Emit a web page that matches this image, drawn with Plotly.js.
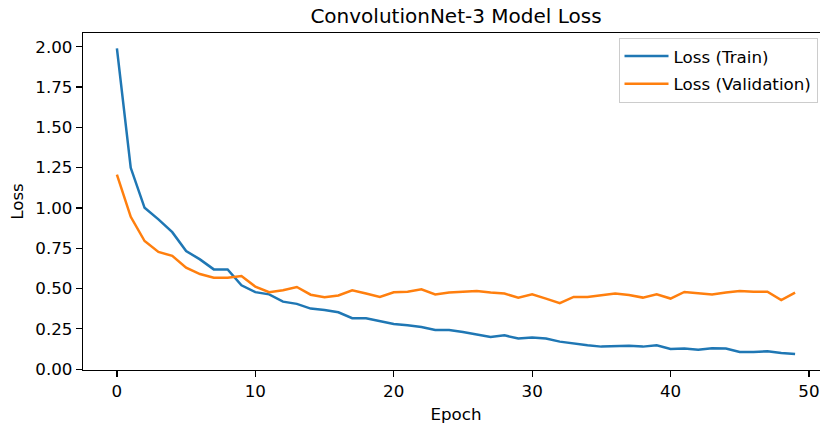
<!DOCTYPE html>
<html>
<head>
<meta charset="utf-8">
<script src="https://cdn.plot.ly/plotly-3.0.1.min.js"></script>
<style>
  html, body { margin: 0; padding: 0; width: 820px; height: 426px; overflow: hidden; background: #fff; }
  #chart { width: 829px; height: 426px; }
</style>
</head>
<body>
<div id="chart"></div>
<script>
const epochs = Array.from({length: 50}, (_, i) => i);
const trainLoss = [1.99, 1.249, 1.001, 0.929, 0.850, 0.733, 0.681, 0.619, 0.619, 0.520,
                   0.478, 0.464, 0.419, 0.405, 0.376, 0.367, 0.353, 0.316, 0.316, 0.299,
                   0.280, 0.272, 0.262, 0.243, 0.243, 0.231, 0.217, 0.200, 0.210, 0.190,
                   0.196, 0.190, 0.171, 0.159, 0.149, 0.140, 0.144, 0.146, 0.140, 0.149,
                   0.126, 0.128, 0.120, 0.130, 0.128, 0.107, 0.107, 0.111, 0.101, 0.095];
const valLoss = [1.207, 0.945, 0.795, 0.727, 0.703, 0.630, 0.590, 0.567, 0.567, 0.578,
                 0.512, 0.477, 0.490, 0.510, 0.462, 0.446, 0.457, 0.489, 0.469, 0.448,
                 0.477, 0.481, 0.495, 0.464, 0.475, 0.481, 0.485, 0.475, 0.469, 0.444,
                 0.464, 0.438, 0.409, 0.448, 0.448, 0.458, 0.469, 0.460, 0.444, 0.464,
                 0.438, 0.479, 0.470, 0.464, 0.475, 0.485, 0.481, 0.481, 0.429, 0.475];
const seriesNames = ["Loss (Train)", "Loss (Validation)"];
const titleText = "ConvolutionNet-3 Model Loss";
const xLabel = "Epoch";
const yLabel = "Loss";

const FONT = "DejaVu Sans, sans-serif";
const traces = [
  {x: epochs, y: trainLoss, name: seriesNames[0], type: "scatter", mode: "lines",
   line: {color: "#1f77b4", width: 2.5}, legendgroup: "a"},
  {x: epochs, y: valLoss, name: seriesNames[1], type: "scatter", mode: "lines",
   line: {color: "#ff7f0e", width: 2.5}, legendgroup: "b"}
];
const axisCommon = {
  showline: true, mirror: true, linecolor: "#000", linewidth: 1.2,
  ticks: "outside", ticklen: 6, tickwidth: 1.2, tickcolor: "#000",
  showgrid: false, zeroline: false,
  tickfont: {family: FONT, size: 16.7, color: "#000"}
};
const layout = {
  width: 829, height: 426,
  margin: {l: 83, r: 0, t: 33, b: 56},
  paper_bgcolor: "#fff", plot_bgcolor: "#fff",
  font: {family: FONT, color: "#000"},
  title: {text: titleText, font: {family: FONT, size: 20, color: "#000"},
          x: 0.5, xref: "paper", xanchor: "center", y: 0.962, yref: "container", yanchor: "middle"},
  xaxis: Object.assign({}, axisCommon, {
    range: [-2.45, 51.45], dtick: 10, tick0: 0,
    title: {text: xLabel, font: {family: FONT, size: 16.7, color: "#000"}, standoff: 8}
  }),
  yaxis: Object.assign({}, axisCommon, {
    range: [-0.005, 2.085], dtick: 0.25, tick0: 0, tickformat: ".2f",
    title: {text: yLabel, font: {family: FONT, size: 16.7, color: "#000"}, standoff: 7}
  }),
  showlegend: true,
  legend: {x: 0.9846, y: 0.986, xanchor: "right", yanchor: "top",
           bgcolor: "rgba(255,255,255,0.8)", bordercolor: "#cccccc", borderwidth: 1,
           font: {family: FONT, size: 16.7, color: "#000"}, tracegroupgap: 3,
           itemwidth: 44}
};
Plotly.newPlot("chart", traces, layout, {displayModeBar: false, staticPlot: true});
</script>
</body>
</html>
